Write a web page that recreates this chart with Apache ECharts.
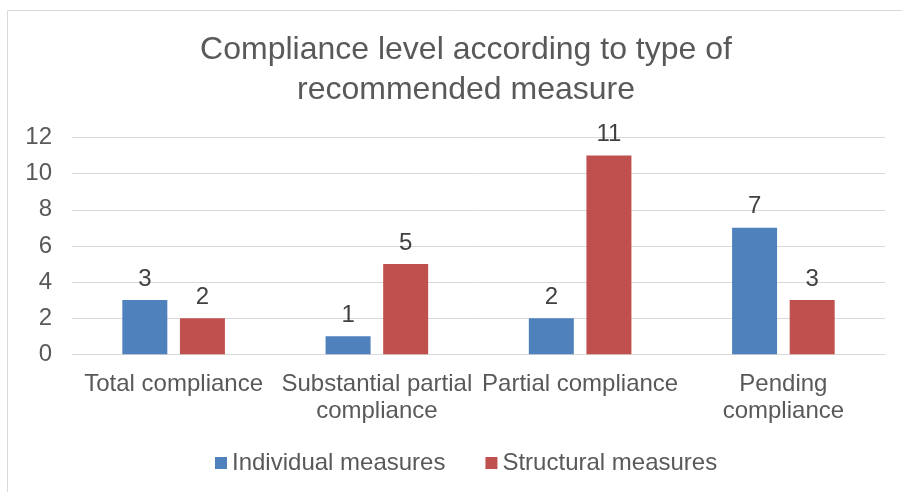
<!DOCTYPE html>
<html><head><meta charset="utf-8">
<script src="https://cdn.jsdelivr.net/npm/echarts@6/dist/echarts.min.js"></script>
<style>html,body{margin:0;padding:0;background:#fff}#c{width:902px;height:492px}</style>
</head><body><div id="c"></div>
<script>
const titleText = 'Compliance level according to type of\nrecommended measure';
const categories = ['Total compliance', 'Substantial partial\ncompliance', 'Partial compliance', 'Pending\ncompliance'];
const individualMeasures = [3, 1, 2, 7];
const structuralMeasures = [2, 5, 11, 3];
const seriesNames = ['Individual measures', 'Structural measures'];
const yTicks = {min: 0, max: 12, interval: 2};

const chart = echarts.init(document.getElementById('c'), null, {renderer: 'canvas'});
const font = 'Liberation Sans, Arial, sans-serif';
const txt = '#595959';
chart.setOption({
  animation: false,
  graphic: [{type: 'rect', shape: {x: 7.5, y: 10.5, width: 1000, height: 1000}, style: {fill: 'none', stroke: '#d9d9d9', lineWidth: 1}, silent: true}],
  title: {text: titleText, left: 461, textAlign: 'center', top: 25,
    textStyle: {fontFamily: font, fontSize: 32, fontWeight: 'normal', color: txt, lineHeight: 40}},
  legend: {top: 445, left: 210, itemWidth: 12, itemHeight: 12, itemGap: 40, icon: 'rect',
    textStyle: {fontFamily: font, fontSize: 24, color: txt, lineHeight: 26}, data: seriesNames},
  grid: {left: 72, right: 17, top: 137.5, bottom: 137.7, containLabel: false},
  xAxis: {type: 'category', data: categories,
    axisLine: {lineStyle: {color: '#d9d9d9', width: 1}}, axisTick: {show: false},
    axisLabel: {fontFamily: font, fontSize: 24, color: txt, margin: 17, lineHeight: 27, interval: 0}},
  yAxis: {type: 'value', min: yTicks.min, max: yTicks.max, interval: yTicks.interval,
    axisLine: {show: false}, axisTick: {show: false},
    splitLine: {lineStyle: {color: '#d9d9d9', width: 1}},
    axisLabel: {fontFamily: font, fontSize: 24, color: txt, margin: 20}},
  series: [
    {name: seriesNames[0], type: 'bar', data: individualMeasures, barWidth: 45, barGap: '28%',
     itemStyle: {color: '#4f81bd'},
     label: {show: true, position: 'top', distance: 9, fontFamily: font, fontSize: 24, color: '#404040'}},
    {name: seriesNames[1], type: 'bar', data: structuralMeasures, barWidth: 45,
     itemStyle: {color: '#c0504d'},
     label: {show: true, position: 'top', distance: 9, fontFamily: font, fontSize: 24, color: '#404040'}}
  ]
});
</script></body></html>
